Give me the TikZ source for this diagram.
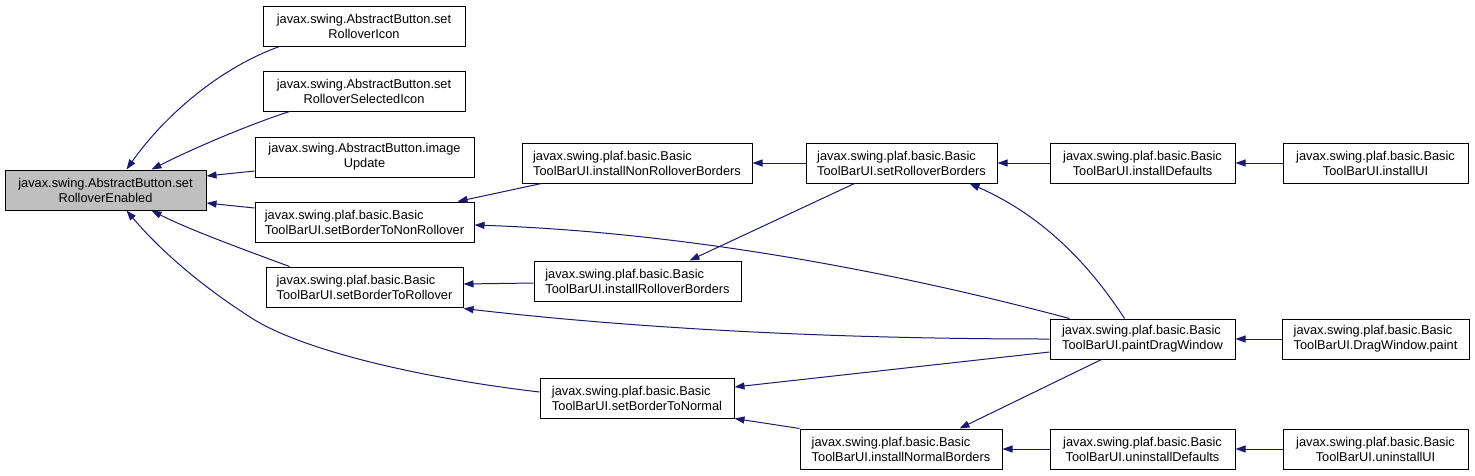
\documentclass[tikz,border=0pt]{standalone}
\usepackage{fontspec}
\setmainfont{Liberation Sans}
\usetikzlibrary{arrows.meta,calc}
\definecolor{edgeblue}{RGB}{25,25,112}
\definecolor{rootgray}{RGB}{191,191,191}
\begin{document}
\begin{tikzpicture}[x=1pt,y=-1pt,
  box/.style={draw=black,line width=1pt,fill=white,rectangle,minimum height=40pt,inner sep=0pt,
    font=\fontsize{12.8}{15}\selectfont},
  lbox/.style={box,align=left},
  cbox/.style={box,align=center},
  call/.style={draw=edgeblue,line width=1pt,-{Triangle[length=10pt,width=7pt]}}]
\useasboundingbox (0,0) rectangle (1475,475);
% nodes
\node[cbox,fill=rootgray,minimum width=201pt] (root) at (105.5,190) {javax.swing.AbstractButton.set\\RolloverEnabled};
\node[cbox,minimum width=202pt] (A1) at (364,26) {javax.swing.AbstractButton.set\\RolloverIcon};
\node[cbox,minimum width=202pt] (A2) at (364,91) {javax.swing.AbstractButton.set\\RolloverSelectedIcon};
\node[cbox,minimum width=219pt] (A3) at (364.5,157) {javax.swing.AbstractButton.image\\Update};
\node[lbox,minimum width=219pt] (A4) at (364.5,222) {javax.swing.plaf.basic.Basic\\ToolBarUI.setBorderToNonRollover};
\node[lbox,minimum width=197pt] (A5) at (364.5,287) {javax.swing.plaf.basic.Basic\\ToolBarUI.setBorderToRollover};
\node[lbox,minimum width=230pt] (B1) at (637,163) {javax.swing.plaf.basic.Basic\\ToolBarUI.installNonRolloverBorders};
\node[lbox,minimum width=207pt] (B2) at (637.5,281) {javax.swing.plaf.basic.Basic\\ToolBarUI.installRolloverBorders};
\node[lbox,minimum width=194pt] (B3) at (637,398) {javax.swing.plaf.basic.Basic\\ToolBarUI.setBorderToNormal};
\node[lbox,minimum width=191pt] (C1) at (901.5,163) {javax.swing.plaf.basic.Basic\\ToolBarUI.setRolloverBorders};
\node[lbox,minimum width=185pt] (C2) at (1142.5,339) {javax.swing.plaf.basic.Basic\\ToolBarUI.paintDragWindow};
\node[lbox,minimum width=202pt] (C3) at (901,449) {javax.swing.plaf.basic.Basic\\ToolBarUI.installNormalBorders};
\node[cbox,minimum width=185pt] (D1) at (1142.5,163) {javax.swing.plaf.basic.Basic\\ToolBarUI.installDefaults};
\node[cbox,minimum width=185pt] (D3) at (1142.5,449) {javax.swing.plaf.basic.Basic\\ToolBarUI.uninstallDefaults};
\node[cbox,minimum width=185pt] (E1) at (1375.5,163) {javax.swing.plaf.basic.Basic\\ToolBarUI.installUI};
\node[lbox,minimum width=187pt] (E2) at (1375.5,339) {javax.swing.plaf.basic.Basic\\ToolBarUI.DragWindow.paint};
\node[cbox,minimum width=185pt] (E3) at (1375.5,449) {javax.swing.plaf.basic.Basic\\ToolBarUI.uninstallUI};
% edges
\draw[call] ($(A1.south west)+(17,0)$) .. controls (220,68) and (165,115) .. ($(root.north west)+(122,0)$);
\draw[call] ($(A2.south west)+(27,0)$) .. controls (245,126) and (190,150) .. ($(root.north west)+(147,0)$);
\draw[call] ($(A3.west)+(0,14)$) -- ($(root.east)+(0,-14)$);
\draw[call] ($(A4.west)+(0,-14)$) -- ($(root.east)+(0,13)$);
\draw[call] ($(A5.north west)+(24,0)$) .. controls (245,250) and (190,230) .. ($(root.south west)+(147,0)$);
\draw[call] ($(B3.west)+(0,-6)$) .. controls (420,378) and (300,350) .. (250,317) .. controls (200,285) and (160,250) .. ($(root.south west)+(122,0)$);
\draw[call] ($(B1.south west)+(20,0)$) -- ($(A4.north east)+(-17,0)$);
\draw[call] ($(C2.north west)+(20,0)$) .. controls (850,260) and (650,231) .. ($(A4.east)+(0,3)$);
\draw[call] ($(B2.west)+(0,2)$) -- ($(A5.east)+(0,-3)$);
\draw[call] (C2.west) .. controls (850,339) and (650,330) .. ($(A5.south east)+(0,1)$);
\draw[call] (C1.west) -- (B1.east);
\draw[call] ($(C1.south west)+(49,0)$) -- ($(B2.north west)+(156,0)$);
\draw[call] (D1.west) -- (C1.east);
\draw[call] ($(C2.north west)+(75,0)$) .. controls (1080,250) and (1030,210) .. ($(C1.south west)+(164,0)$);
\draw[call] ($(C2.west)+(0,13)$) -- ($(B3.east)+(0,-11)$);
\draw[call] (C3.north west) -- (B3.south east);
\draw[call] ($(C2.south west)+(52,0)$) -- ($(C3.north west)+(160,0)$);
\draw[call] (E1.west) -- (D1.east);
\draw[call] (E2.west) -- (C2.east);
\draw[call] (D3.west) -- (C3.east);
\draw[call] (E3.west) -- (D3.east);
\end{tikzpicture}
\end{document}
